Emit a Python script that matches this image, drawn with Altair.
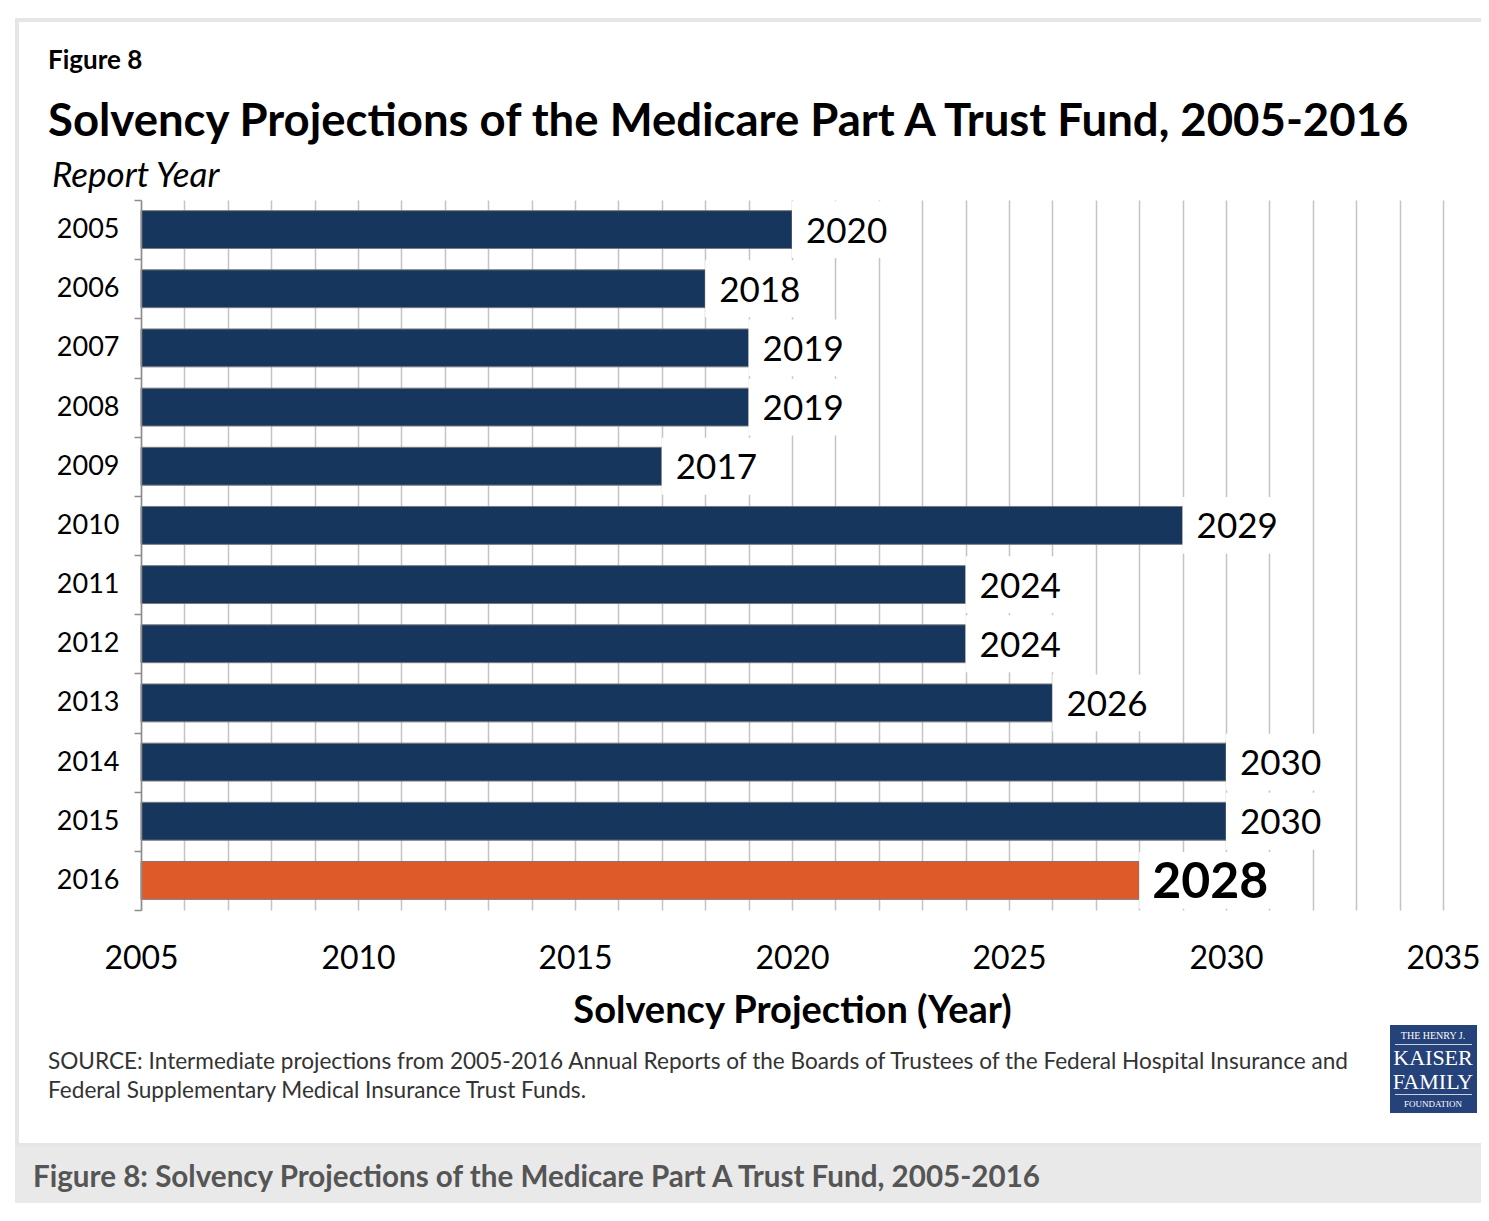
import altair as alt
import pandas as pd

report_years = ["2005", "2006", "2007", "2008", "2009", "2010",
                "2011", "2012", "2013", "2014", "2015", "2016"]
solvency_years = [2020, 2018, 2019, 2019, 2017, 2029, 2024, 2024, 2026, 2030, 2030, 2028]
highlight_year = "2016"
x_ticks = list(range(2005, 2036))
x_start = 2005

NAVY = "#17365d"
ORANGE = "#de5b29"
FONT = "Lato"

df = pd.DataFrame({"report": report_years, "value": solvency_years})

# plot-origin helpers (page coords -> plot coords)
PL, PT = 141, 200
def px(v):
    return v - PL
def py(v):
    return v - PT

y_enc = alt.Y("report:N", sort=report_years,
              scale=alt.Scale(paddingInner=0, paddingOuter=0),
              axis=alt.Axis(title=None, grid=False, domainColor="#8c8c8c", domainWidth=1.5,
                            tickColor="#8c8c8c", tickWidth=1.5, tickSize=7, tickBand="extent",
                            labelFont=FONT, labelFontSize=27, labelColor="#000",
                            labelPadding=15, zindex=2))
x_enc = alt.X("value:Q",
              scale=alt.Scale(domain=[2005, 2035], zero=False, nice=False),
              axis=alt.Axis(values=x_ticks, format="d",
                            labelExpr="datum.value % 5 == 0 ? datum.label : ''",
                            grid=True, gridColor="#c4c4c4", gridWidth=1.5,
                            domain=False, ticks=False, tickSize=0,
                            labelFont=FONT, labelFontSize=32, labelColor="#000",
                            labelBaseline="middle", labelPadding=48, labelFlush=False,
                            title="Solvency Projection (Year)", titleFont=FONT,
                            titleFontSize=38, titleFontWeight="bold", titleColor="#000",
                            titleY=101, titleBaseline="middle"))

base = alt.Chart(df)

bars = base.mark_bar(height=alt.RelativeBandSize(0.64), stroke="#7a7a7a", strokeWidth=1).encode(
    y=y_enc, x=x_enc, x2=alt.datum(x_start),
    color=alt.condition(alt.datum.report == highlight_year, alt.value(ORANGE), alt.value(NAVY)),
)

box_normal = base.transform_filter(alt.datum.report != highlight_year).transform_calculate(
    end="datum.value + 2.3").mark_bar(height=alt.RelativeBandSize(0.96), color="white").encode(
    y=alt.Y("report:N", sort=report_years), x="value:Q", x2="end:Q")
box_bold = base.transform_filter(alt.datum.report == highlight_year).transform_calculate(
    end="datum.value + 3.5").mark_bar(height=alt.RelativeBandSize(0.96), color="white").encode(
    y=alt.Y("report:N", sort=report_years), x="value:Q", x2="end:Q")

lab_normal = base.transform_filter(alt.datum.report != highlight_year).mark_text(
    align="left", baseline="middle", dx=14, dy=2, font=FONT, fontSize=35, color="#000").encode(
    y=alt.Y("report:N", sort=report_years), x="value:Q", text=alt.Text("value:Q", format="d"))
lab_bold = base.transform_filter(alt.datum.report == highlight_year).mark_text(
    align="left", baseline="middle", dx=13, dy=3, font=FONT, fontSize=50, fontWeight="bold",
    color="#000").encode(
    y=alt.Y("report:N", sort=report_years), x="value:Q", text=alt.Text("value:Q", format="d"))

one = pd.DataFrame({"k": [0]})

def txt(s, x, y, size, weight="normal", style="normal", color="#000", font=FONT, align="left"):
    return alt.Chart(one).mark_text(text=s, align=align, baseline="middle", font=font,
                                    fontSize=size, fontWeight=weight, fontStyle=style,
                                    color=color).encode(x=alt.value(x), y=alt.value(y))

def rect(x1, x2, y1, y2, fill=None, stroke=None, sw=0):
    kw = {}
    if fill is not None:
        kw["fill"] = fill
    else:
        kw["fillOpacity"] = 0
        kw["fill"] = "white"
    if stroke is not None:
        kw["stroke"] = stroke
        kw["strokeWidth"] = sw
    return alt.Chart(one).mark_rect(**kw).encode(
        x=alt.value(x1), x2=alt.value(x2), y=alt.value(y1), y2=alt.value(y2))

frame = rect(px(17), px(1500), py(20), py(1145), stroke="#e6e6e6", sw=4)
caption_bar = rect(px(15), px(1500), py(1145), py(1215), fill="#e9e9e9")

fig_label = txt("Figure 8", px(48), py(61), 26, weight="bold")
title = txt("Solvency Projections of the Medicare Part A Trust Fund, 2005-2016",
            px(48), py(122), 45.5, weight="bold")
subtitle = txt("Report Year", px(52), py(176), 35, style="italic")
src1 = txt("SOURCE: Intermediate projections from 2005-2016 Annual Reports of the Boards of Trustees "
           "of the Federal Hospital Insurance and", px(48), py(1062), 22.6, color="#333")
src2 = txt("Federal Supplementary Medical Insurance Trust Funds.", px(48), py(1091), 22.6, color="#333")
caption = txt("Figure 8: Solvency Projections of the Medicare Part A Trust Fund, 2005-2016",
              px(33), py(1178), 29.6, weight="bold", color="#555555")

logo_bg = rect(px(1390), px(1477), py(1025), py(1113), fill="#25427a")
SERIF = "Liberation Serif"
logo1 = txt("THE HENRY J.", px(1433), py(1036), 10, color="white", font=SERIF, align="center")
logo2 = txt("KAISER", px(1433), py(1058), 22, color="white", font=SERIF, align="center")
logo3 = txt("FAMILY", px(1433), py(1082), 22, color="white", font=SERIF, align="center")
logo4 = txt("FOUNDATION", px(1433), py(1104), 9, color="white", font=SERIF, align="center")
logo_rule1 = rect(px(1395), px(1472), py(1044), py(1045), fill="#c8d0e0")
logo_rule2 = rect(px(1395), px(1472), py(1094), py(1095), fill="#c8d0e0")

chart = alt.layer(
    caption_bar, frame,
    bars, box_normal, box_bold, lab_normal, lab_bold,
    fig_label, title, subtitle, src1, src2, caption,
    logo_bg, logo_rule1, logo_rule2, logo1, logo2, logo3, logo4,
).properties(
    width=1302, height=710,
    background="white",
    autosize=alt.AutoSizeParams(type="none"),
    padding={"left": 133, "top": 192, "right": 38, "bottom": 293},
).configure_view(strokeWidth=0)

chart.save("out.html", embed_options={"renderer": "svg", "actions": False})
